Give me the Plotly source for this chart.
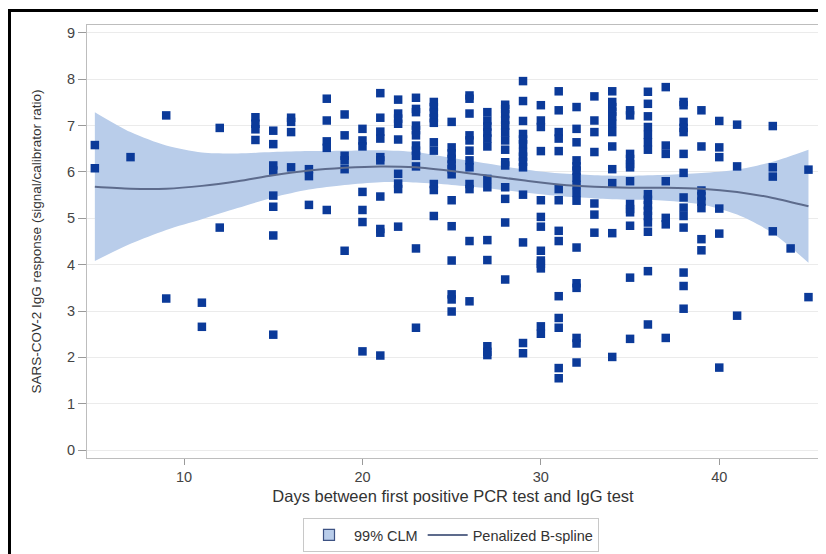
import plotly.graph_objects as go

# ---- data ----
days = (
    [5, 5] + [7] + [9, 9] + [11, 11] + [12, 12] + [14] * 4 + [15] * 8 + [16] * 4 + [17] * 3
    + [18] * 5 + [19] * 6 + [20] * 7 + [21] * 10 + [22] * 9 + [23] * 12 + [24] * 10
    + [25] * 13 + [26] * 12 + [27] * 13 + [28] * 14 + [29] * 14 + [30] * 13 + [31] * 14
    + [32] * 16 + [33] * 7 + [34] * 12 + [35] * 13 + [36] * 16 + [37] * 7 + [38] * 14
    + [39] * 8 + [40] * 6 + [41] * 3 + [43] * 4 + [44] + [45] * 2
)
igg = [
    6.58, 6.08,
    6.32,
    7.22, 3.27,
    3.18, 2.66,
    6.95, 4.80,
    7.18, 7.04, 6.92, 6.69,
    6.89, 6.60, 6.14, 6.03, 5.49, 5.25, 4.63, 2.49,
    7.17, 7.08, 6.86, 6.10,
    6.06, 5.91, 5.29,
    7.58, 7.11, 6.66, 6.52, 5.18,
    7.24, 6.79, 6.35, 6.25, 6.06, 4.30,
    6.93, 6.68, 6.55, 5.57, 5.18, 4.92, 2.13,
    7.70, 7.17, 6.87, 6.72, 6.32, 6.25, 5.47, 4.77, 4.69, 2.04,
    7.56, 7.26, 7.15, 7.04, 6.70, 5.96, 5.75, 5.63, 4.82,
    7.60, 7.36, 7.29, 7.00, 6.90, 6.79, 6.57, 6.46, 6.35, 6.12, 4.35, 2.64,
    7.51, 7.40, 7.28, 7.16, 7.06, 6.64, 6.46, 5.74, 5.61, 5.05,
    7.08, 6.53, 6.40, 6.28, 6.16, 6.06, 5.95, 5.39, 4.83, 4.09, 3.36, 3.25, 2.99,
    7.65, 7.58, 7.26, 6.79, 6.68, 6.46, 6.25, 6.10, 5.74, 5.63, 4.51, 3.21,
    7.29, 7.11, 6.98, 6.85, 6.72, 6.55, 5.85, 5.67, 4.53, 4.10, 2.24, 2.12, 2.05,
    7.45, 7.36, 7.25, 7.12, 7.00, 6.85, 6.68, 6.48, 6.21, 6.14, 5.67, 5.42, 4.91, 3.68,
    7.96, 7.53, 7.10, 6.82, 6.70, 6.60, 6.43, 6.33, 6.22, 6.10, 5.51, 4.48, 2.31, 2.09,
    7.44, 7.11, 6.97, 6.45, 5.39, 5.03, 4.82, 4.30, 4.09, 4.02, 3.92, 2.67, 2.51,
    7.74, 7.33, 6.86, 6.72, 6.45, 5.63, 5.39, 4.73, 4.51, 3.32, 2.85, 2.64, 1.77, 1.55,
    7.40, 6.93, 6.64, 6.25, 6.12, 6.03, 5.88, 5.72, 5.55, 5.38, 4.37, 3.60, 3.50, 2.42, 2.30, 1.89,
    7.63, 7.11, 6.86, 6.43, 5.32, 5.08, 4.69,
    7.74, 7.51, 7.40, 7.30, 7.20, 7.04, 6.86, 6.55, 6.06, 5.76, 4.68, 2.01,
    7.33, 7.22, 6.39, 6.28, 6.17, 6.10, 5.80, 5.31, 5.20, 5.13, 4.84, 3.72, 2.40,
    7.73, 7.47, 7.20, 6.97, 6.80, 6.64, 6.48, 5.52, 5.40, 5.28, 5.16, 5.05, 4.91, 4.71, 3.86, 2.71,
    7.83, 6.57, 6.39, 5.80, 5.01, 4.87, 2.42,
    7.51, 7.44, 7.08, 6.95, 6.86, 6.39, 5.98, 5.45, 5.23, 5.05, 4.80, 3.83, 3.54, 3.05,
    7.33, 6.55, 5.60, 5.48, 5.36, 5.22, 4.55, 4.31,
    7.10, 6.53, 6.32, 5.21, 4.67, 1.78,
    7.02, 6.12, 2.90,
    6.99, 6.10, 5.90, 4.72,
    4.35,
    6.05, 3.30,
]

spline_x = [5, 7, 9, 11, 13, 15, 17, 19, 21, 23, 25, 27, 29, 31, 33, 35, 37, 39, 41, 43, 45]
spline_fit = [5.68, 5.64, 5.64, 5.70, 5.80, 5.93, 6.03, 6.09, 6.12, 6.10, 6.02,
              5.92, 5.82, 5.73, 5.68, 5.66, 5.66, 5.64, 5.57, 5.44, 5.26]
clm_upper = [7.29, 6.86, 6.57, 6.42, 6.40, 6.43, 6.45, 6.46, 6.47, 6.43, 6.30,
             6.18, 6.06, 5.97, 5.93, 5.92, 5.94, 5.98, 6.05, 6.22, 6.48]
clm_lower = [4.08, 4.45, 4.75, 4.98, 5.22, 5.45, 5.62, 5.72, 5.78, 5.77, 5.72,
             5.65, 5.56, 5.48, 5.43, 5.40, 5.38, 5.30, 5.08, 4.68, 4.04]

x_ticks = [10, 20, 30, 40]
y_ticks = list(range(0, 10))

FONT = "Liberation Sans, Arial, sans-serif"
BAND = "#b9cdea"

fig = go.Figure()

# confidence band: lower edge, then upper edge filled to it
fig.add_trace(go.Scatter(
    x=spline_x, y=clm_lower, mode="lines", showlegend=False, hoverinfo="skip",
    line=dict(color="rgba(0,0,0,0)", width=0, shape="spline", smoothing=0.8),
))
fig.add_trace(go.Scatter(
    x=spline_x, y=clm_upper, mode="lines", showlegend=False, hoverinfo="skip",
    fill="tonexty", fillcolor=BAND,
    line=dict(color="rgba(0,0,0,0)", width=0, shape="spline", smoothing=0.8),
))
# legend entry for the band (small outlined square as in the reference)
fig.add_trace(go.Scatter(
    x=[None], y=[None], mode="markers", name="99% CLM", legendrank=1,
    marker=dict(symbol="square", size=11, color=BAND,
                line=dict(color="#3d5283", width=1.2)),
))
fig.add_trace(go.Scatter(
    x=days, y=igg, mode="markers", showlegend=False,
    marker=dict(symbol="square", size=8.5, color="#0b3a99",
                line=dict(width=0)),
))
fig.add_trace(go.Scatter(
    x=spline_x, y=spline_fit, mode="lines", name="Penalized B-spline", legendrank=2,
    line=dict(color="#5d6b8c", width=2, shape="spline", smoothing=0.8),
))

# page has an 8px body margin, so the figure is drawn 8px in from the corner
OFF = 8
W, H = 826 - OFF, 554 - OFF
L, T = 87 - OFF, 25 - OFF
R = W - (819 - OFF)
B = H - (458 - OFF)
pw, ph = W - L - R, H - T - B

def px_x(x):  # page pixel -> paper fraction
    return (x - OFF - L) / pw

def px_y(y):
    return (H - B - (y - OFF)) / ph

fig.update_layout(
    width=W, height=H,
    margin=dict(l=L, r=R, t=T, b=B, autoexpand=False),
    paper_bgcolor="white", plot_bgcolor="white",
    font=dict(family=FONT, color="#333333", size=13),
    showlegend=True,
    legend=dict(
        orientation="h", x=px_x(451), xanchor="center", y=px_y(535), yanchor="middle",
        bordercolor="#c8c8c8", borderwidth=1, bgcolor="white", traceorder="normal",
        font=dict(size=14.5, color="#333333"), itemwidth=40,
    ),
    xaxis=dict(
        range=[4.56, 45.59], tickvals=x_ticks, showgrid=False, zeroline=False,
        ticks="outside", ticklen=6, tickcolor="#9a9a9a", automargin=False,
        showline=True, mirror=True, linecolor="#bdbdbd", linewidth=1,
        tickfont=dict(size=14.5, color="#444444"),
        title=dict(text="Days between first positive PCR test and IgG test",
                   font=dict(size=16.5, color="#333333"), standoff=6),
    ),
    yaxis=dict(
        range=[-0.17, 9.17], tickvals=y_ticks, showgrid=True, gridcolor="#ebebeb",
        zeroline=False, ticks="outside", ticklen=8, tickcolor="#9a9a9a", automargin=False,
        showline=True, mirror=True, linecolor="#bdbdbd", linewidth=1,
        tickfont=dict(size=14.5, color="#444444"),
        title=dict(text="SARS-COV-2 IgG response (signal/calibrator ratio)",
                   font=dict(size=13.5, color="#333333"), standoff=22),
    ),
    shapes=[
        dict(type="line", xref="paper", yref="paper",
             x0=px_x(9.5), x1=px_x(9.5), y0=px_y(560), y1=px_y(9.5),
             line=dict(color="black", width=3)),
        dict(type="line", xref="paper", yref="paper",
             x0=px_x(8), x1=px_x(830), y0=px_y(10.5), y1=px_y(10.5),
             line=dict(color="black", width=3)),
    ],
)

fig.write_html("out.html")
